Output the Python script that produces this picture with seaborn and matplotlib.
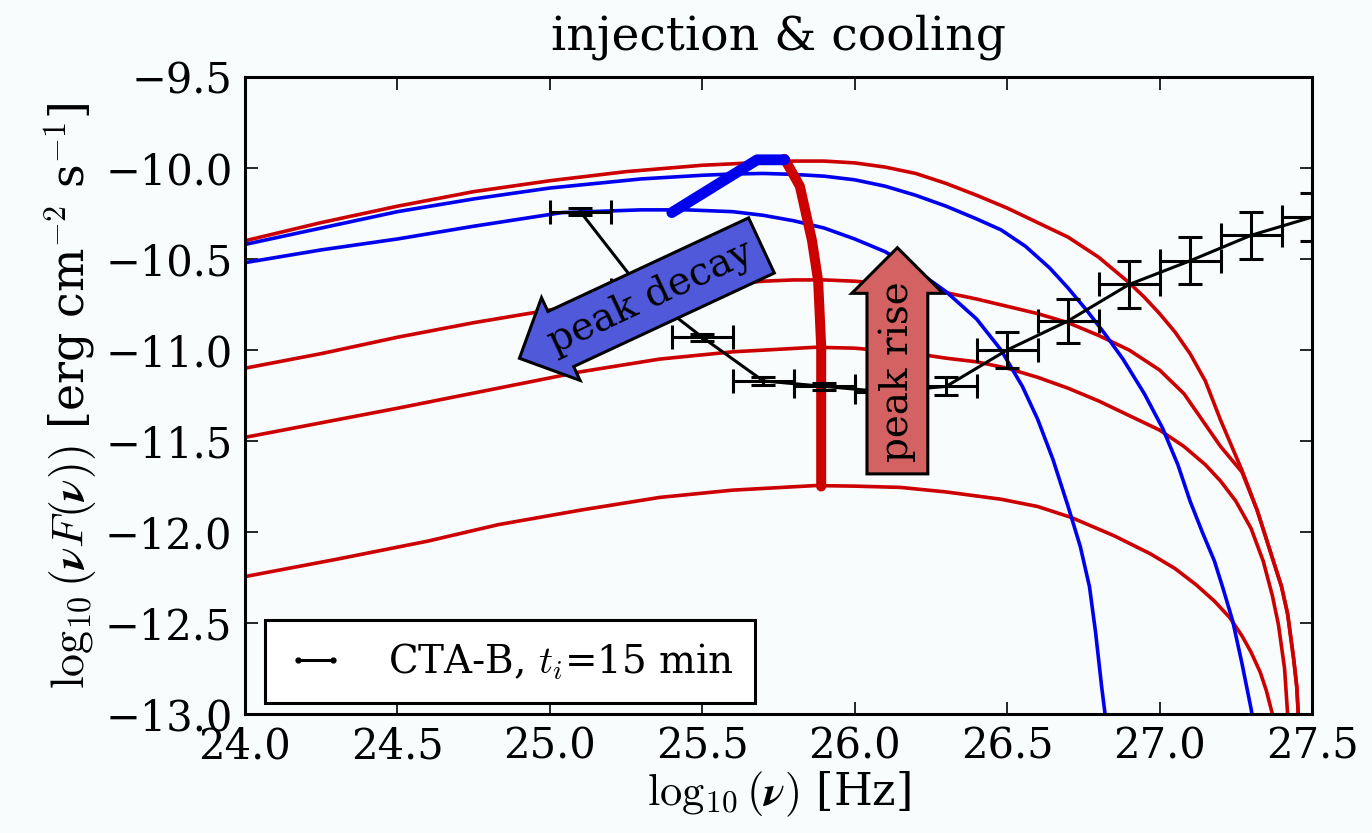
import matplotlib
matplotlib.use("Agg")
import matplotlib.pyplot as plt
import seaborn as sns
import pandas as pd
from matplotlib.lines import Line2D

# ---- model spectra: log10(nu) [Hz] -> log10(nu F(nu)) [erg cm^-2 s^-1] ----
# injection-phase spectra (red)
red1_x = [24.0, 24.25, 24.5, 24.75, 25.0, 25.25, 25.5, 25.6, 25.7, 25.8, 25.9, 26.0, 26.1,
          26.2, 26.3, 26.4, 26.5, 26.6, 26.7, 26.8, 26.9, 26.95, 27.0, 27.05, 27.1, 27.15,
          27.2, 27.27, 27.32, 27.36, 27.40, 27.42, 27.44, 27.45, 27.455]
red1_y = [-10.40, -10.30, -10.21, -10.13, -10.07, -10.02, -9.985, -9.977, -9.968, -9.962,
          -9.962, -9.972, -9.995, -10.03, -10.085, -10.15, -10.22, -10.30, -10.38, -10.49,
          -10.63, -10.71, -10.80, -10.90, -11.02, -11.17, -11.385, -11.66, -11.88, -12.09,
          -12.30, -12.45, -12.70, -12.85, -13.0]

red2_x = [24.0, 24.25, 24.5, 24.75, 25.0, 25.25, 25.5, 25.6, 25.7, 25.8, 25.9, 26.0, 26.1,
          26.2, 26.3, 26.4, 26.5, 26.6, 26.7, 26.8, 26.9, 27.0, 27.08, 27.14, 27.2, 27.27,
          27.32, 27.36, 27.40, 27.42, 27.44, 27.45, 27.455]
red2_y = [-11.10, -11.02, -10.93, -10.85, -10.78, -10.72, -10.66, -10.635, -10.622, -10.615,
          -10.615, -10.622, -10.635, -10.655, -10.685, -10.72, -10.76, -10.80, -10.85, -10.92,
          -11.0, -11.11, -11.24, -11.385, -11.53, -11.67, -11.88, -12.09, -12.30, -12.45,
          -12.70, -12.85, -13.0]

red3_x = [24.0, 24.25, 24.5, 24.83, 25.1, 25.36, 25.6, 25.87, 26.0, 26.1, 26.2, 26.3, 26.4,
          26.5, 26.6, 26.7, 26.8, 26.9, 27.0, 27.08, 27.15, 27.2, 27.25, 27.3, 27.34, 27.37,
          27.39, 27.41, 27.42]
red3_y = [-11.48, -11.40, -11.32, -11.21, -11.12, -11.05, -11.01, -10.985, -10.99, -11.005,
          -11.02, -11.045, -11.065, -11.10, -11.15, -11.21, -11.28, -11.36, -11.44, -11.53,
          -11.63, -11.72, -11.83, -11.98, -12.16, -12.35, -12.51, -12.75, -13.0]

red4_x = [24.0, 24.3, 24.6, 24.83, 25.1, 25.36, 25.6, 25.87, 26.0, 26.15, 26.3, 26.48, 26.6,
          26.71, 26.85, 26.97, 27.05, 27.12, 27.18, 27.23, 27.27, 27.3, 27.33, 27.35, 27.37]
red4_y = [-12.245, -12.15, -12.05, -11.96, -11.88, -11.81, -11.77, -11.745, -11.748, -11.755,
          -11.78, -11.82, -11.86, -11.92, -12.02, -12.12, -12.20, -12.29, -12.38, -12.47,
          -12.57, -12.66, -12.77, -12.87, -13.0]

# cooling-phase spectra (blue)
blue1_x = [24.0, 24.25, 24.5, 24.75, 25.04, 25.3, 25.45, 25.6, 25.7, 25.8, 25.9, 26.0, 26.1,
           26.2, 26.3, 26.4, 26.48, 26.55, 26.6, 26.65, 26.7, 26.74, 26.77, 26.79, 26.81,
           26.825]
blue1_y = [-10.52, -10.45, -10.39, -10.32, -10.245, -10.23, -10.23, -10.24, -10.26, -10.29,
           -10.33, -10.39, -10.46, -10.56, -10.68, -10.83, -11.0, -11.2, -11.38, -11.6,
           -11.86, -12.08, -12.3, -12.55, -12.85, -13.05]

blue2_x = [24.0, 24.25, 24.5, 24.75, 25.0, 25.3, 25.5, 25.6, 25.7, 25.8, 25.9, 26.0, 26.1,
           26.2, 26.3, 26.4, 26.48, 26.56, 26.64, 26.7, 26.76, 26.82, 26.88, 26.95, 27.01,
           27.06, 27.1, 27.14, 27.18, 27.21, 27.24, 27.27, 27.3, 27.305]
blue2_y = [-10.42, -10.33, -10.24, -10.17, -10.11, -10.06, -10.04, -10.033, -10.03, -10.035,
           -10.045, -10.065, -10.10, -10.15, -10.21, -10.28, -10.34, -10.43, -10.55, -10.66,
           -10.78, -10.91, -11.05, -11.24, -11.43, -11.63, -11.83, -12.0, -12.16, -12.32,
           -12.49, -12.72, -12.97, -13.02]

# tracks of the spectral peak
peak_rise_x = [25.77, 25.82, 25.86, 25.88, 25.89, 25.89]
peak_rise_y = [-9.95, -10.10, -10.40, -10.62, -10.98, -11.75]
peak_decay_x = [25.40, 25.68, 25.77]
peak_decay_y = [-10.245, -9.955, -9.955]

# CTA-B simulated points, t_i = 15 min
cta_x = [25.1, 25.3, 25.5, 25.7, 25.9, 26.1, 26.3, 26.5, 26.7, 26.9, 27.1, 27.3, 27.5]
cta_y = [-10.24, -10.67, -10.93, -11.17, -11.20, -11.23, -11.20, -11.0, -10.84, -10.64,
         -10.51, -10.37, -10.27]
cta_xerr = [0.1] * 13
cta_yerr = [0.02, 0.02, 0.02, 0.02, 0.02, 0.02, 0.05, 0.10, 0.12, 0.13, 0.13, 0.13, 0.13]

x_ticks = [24.0, 24.5, 25.0, 25.5, 26.0, 26.5, 27.0, 27.5]
y_ticks = [-9.5, -10.0, -10.5, -11.0, -11.5, -12.0, -12.5, -13.0]

sns.set_style("ticks")
plt.rcParams.update({
    "font.family": ["DejaVu Serif"],
    "mathtext.fontset": "cm",
    "axes.unicode_minus": True,
    "text.color": "k",
    "axes.labelcolor": "k",
    "xtick.color": "k",
    "ytick.color": "k",
})

RED = "#cc0000"
BLUE = "#0000ee"
BG = "#f8fcfc"

fig = plt.figure(figsize=(13.72, 8.33), dpi=100, facecolor=BG)
ax = fig.add_axes([0.17857, 0.14286, 0.7777, 0.76471], facecolor=BG)


def curve(xs, ys, color, lw, z):
    df = pd.DataFrame({"x": xs, "y": ys})
    sns.lineplot(data=df, x="x", y="y", sort=False, estimator=None, color=color,
                 lw=lw, ax=ax, zorder=z, legend=False)


for xs, ys in [(red1_x, red1_y), (red2_x, red2_y), (red3_x, red3_y), (red4_x, red4_y)]:
    curve(xs, ys, RED, 2.6, 2)
for xs, ys in [(blue1_x, blue1_y), (blue2_x, blue2_y)]:
    curve(xs, ys, BLUE, 2.6, 2)

curve(peak_rise_x, peak_rise_y, RED, 7.2, 3)
curve(peak_decay_x, peak_decay_y, BLUE, 7.8, 3)

ax.errorbar(cta_x, cta_y, xerr=cta_xerr, yerr=cta_yerr, color="k", lw=2.2,
            elinewidth=2.2, capsize=8.5, capthick=2.2, zorder=4)

ax.text(25.33, -10.71, "peak decay", rotation=25, ha="center", va="center",
        fontsize=28, zorder=6,
        bbox=dict(boxstyle="larrow,pad=0.3", fc="#5059da", ec="k", lw=2.2))
ax.text(26.14, -11.12, "peak rise", rotation=90, ha="center", va="center",
        fontsize=28, zorder=6,
        bbox=dict(boxstyle="rarrow,pad=0.3", fc="#d46262", ec="k", lw=2.2))

handle = Line2D([], [], color="k", lw=2.2, marker="o", markersize=3.5)
leg = ax.legend([handle], [r"CTA-B, $t_i$=15 min"], loc="lower left",
                bbox_to_anchor=(0.019, 0.017), borderaxespad=0, numpoints=2,
                fontsize=28, fancybox=False, framealpha=1, edgecolor="k",
                handlelength=1.5, handletextpad=1.1, borderpad=0.55)
leg.get_frame().set_linewidth(2.2)
leg.set_zorder(10)

ax.set_xlim(24.0, 27.5)
ax.set_ylim(-13.0, -9.5)
ax.set_xticks(x_ticks)
ax.set_yticks(y_ticks)
ax.set_xticklabels([f"{v:.1f}" for v in x_ticks])
ax.set_yticklabels([f"{v:.1f}".replace("-", "\u2212") for v in y_ticks])
ax.tick_params(direction="in", length=9, width=1.2, top=True, right=True,
               labelsize=30, colors="k")
ax.tick_params(axis="x", pad=8)
ax.tick_params(axis="y", pad=9)
for s in ax.spines.values():
    s.set_linewidth(2.2)
    s.set_color("k")

ax.set_xlabel(r"$\log_{10}(\boldsymbol{\nu})$ [Hz]", fontsize=32, labelpad=2)
ax.set_ylabel(r"$\log_{10}(\boldsymbol{\nu} F(\boldsymbol{\nu}))$ [erg cm$^{-2}$ s$^{-1}$]",
              fontsize=33, labelpad=4)
ax.set_title("injection & cooling", fontsize=34, pad=20)

fig.savefig("out.png", dpi=100, facecolor=BG)
